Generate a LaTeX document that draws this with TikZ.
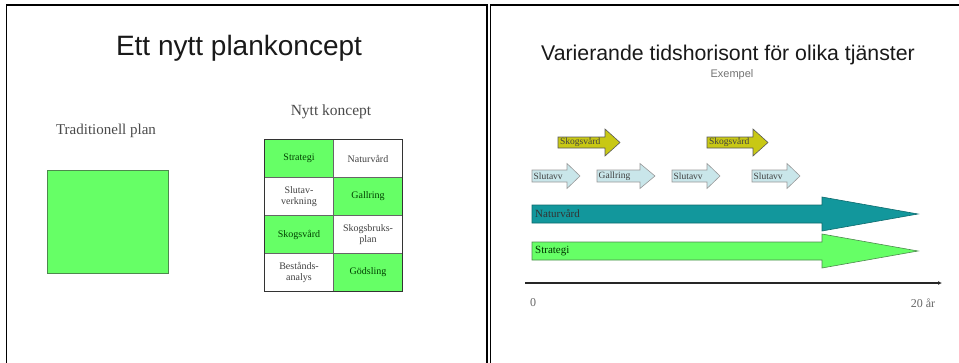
\documentclass[tikz,border=0pt]{standalone}
\usepackage{fontspec}
\usetikzlibrary{arrows.meta}
\setmainfont{Liberation Serif}
\newfontfamily\arial{Liberation Sans}
\definecolor{lgreen}{HTML}{66FF66}
\definecolor{gborder}{HTML}{4D8A4D}
\definecolor{teal1}{HTML}{12979C}
\definecolor{yell}{HTML}{C8C814}
\definecolor{lblue}{HTML}{C9E6EA}
\definecolor{txtgray}{HTML}{4A4A4A}
\newcommand{\blockarrow}[7][]{%
  \draw[#1] (#2,{#5-#6}) -- (#3,{#5-#6}) -- (#3,{#5-#7}) -- (#4,#5) -- (#3,{#5+#7}) -- (#3,{#5+#6}) -- (#2,{#5+#6}) -- cycle;}
\begin{document}
\begin{tikzpicture}[x=1pt,y=-1pt,
  panel/.style={draw=black,line width=1.6pt},
  cell/.style={draw=gray!80!black,line width=0.6pt,minimum width=69pt,minimum height=38pt,inner sep=0pt,align=center,font=\fontsize{10}{11.5}\selectfont,text=black!75},
  gcell/.style={cell,fill=lgreen,text=green!25!black},
  arrtxt/.style={font=\fontsize{9.5}{10}\selectfont,anchor=west,inner sep=1pt},
  bigtxt/.style={font=\fontsize{11}{12}\selectfont,anchor=west,inner sep=1pt}]
\useasboundingbox (0,0) rectangle (959,362);
% panels
\draw[panel] (6.5,375) -- (6.5,5) -- (487,5) -- (487,375);
\draw[panel] (490.5,375) -- (490.5,5) -- (970,5);
% left panel
\node[font=\arial\fontsize{28}{30}\selectfont,text=black!90] (t1) at (239,48) {Ett nytt plankoncept};
\node[font=\fontsize{15}{17}\selectfont,text=txtgray] (trad) at (106,131) {Traditionell plan};
\node[draw=gborder,line width=1pt,fill=lgreen,minimum width=121pt,minimum height=103pt,inner sep=0pt] (sq) at (107.5,221.5) {};
\node[font=\fontsize{15.5}{17}\selectfont,text=txtgray] (nytt) at (331,112) {Nytt koncept};
\node[gcell] (c11) at (299,158.5) {Strategi};
\node[cell]  (c12) at (368,158.5) {Naturvård};
\node[cell]  (c21) at (299,196.5) {Slutav-\\verkning};
\node[gcell] (c22) at (368,196.5) {Gallring};
\node[gcell] (c31) at (299,234.5) {Skogsvård};
\node[cell]  (c32) at (368,234.5) {Skogsbruks-\\plan};
\node[cell]  (c41) at (299,272.5) {Bestånds-\\analys};
\node[gcell] (c42) at (368,272.5) {Gödsling};
\draw[black!80,line width=0.8pt] (c11.north west) rectangle (c42.south east);
% right panel
\node[font=\arial\fontsize{21.3}{24}\selectfont,text=black!90] (t2) at (728,55) {Varierande tidshorisont för olika tjänster};
\node[font=\arial\fontsize{11}{12}\selectfont,text=black!55] (ex) at (732,75) {Exempel};
% yellow arrows
\blockarrow[draw=gray!70!black,line width=0.6pt,fill=yell]{558}{605}{620}{142.5}{5.5}{13.5}
\blockarrow[draw=gray!70!black,line width=0.6pt,fill=yell]{707}{753}{768}{142.5}{5.5}{13.5}
\node[arrtxt,text=black!75] (y1) at (559,142.5) {Skogsvård};
\node[arrtxt,text=black!75] (y2) at (708,142.5) {Skogsvård};
% blue arrows
\blockarrow[draw=gray!80,line width=0.6pt,fill=lblue]{532}{567}{580}{176}{6}{12.5}
\blockarrow[draw=gray!80,line width=0.6pt,fill=lblue]{597}{640}{655}{176}{6}{12.5}
\blockarrow[draw=gray!80,line width=0.6pt,fill=lblue]{672}{707}{720}{176}{6}{12.5}
\blockarrow[draw=gray!80,line width=0.6pt,fill=lblue]{752}{787}{800}{176}{6}{12.5}
\node[arrtxt,text=black!75] (b1) at (532.5,176) {Slutavv};
\node[arrtxt,text=black!75] (b2) at (597.5,176) {Gallring};
\node[arrtxt,text=black!75] (b3) at (672.5,176) {Slutavv};
\node[arrtxt,text=black!75] (b4) at (752.5,176) {Slutavv};
% long arrows
\blockarrow[draw=teal1!70!black,line width=0.6pt,fill=teal1]{532}{822}{918}{214}{9}{17}
\node[bigtxt,text=black!80] (nat) at (534,214) {Naturvård};
\blockarrow[draw=gborder,line width=0.6pt,fill=lgreen]{532}{822}{918}{251}{9}{17}
\node[bigtxt,text=green!20!black] (str) at (534,251) {Strategi};
% axis
\coordinate (a0) at (525,283);
\coordinate (a1) at (942,283);
\draw[black!85,line width=1.2pt,-{Latex[length=4pt,width=4pt]}] (a0) -- (a1);
\node[font=\fontsize{12}{13}\selectfont,text=black!60] (z0) at (533,303) {0};
\node[font=\fontsize{12}{13}\selectfont,text=black!60] (z20) at (923,303) {20 år};
\end{tikzpicture}
\end{document}
